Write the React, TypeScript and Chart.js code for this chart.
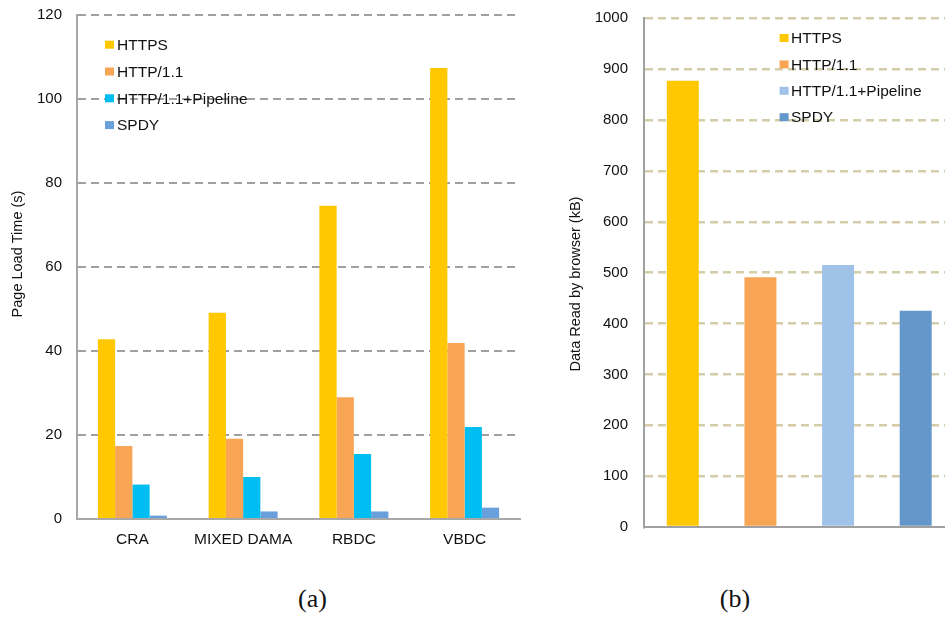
import React, { useEffect, useRef } from 'react';
import { Chart, registerables } from 'chart.js';

Chart.register(...registerables);

// ---- Data: panel (a) Page Load Time (s)
const categoriesA = ['CRA', 'MIXED DAMA', 'RBDC', 'VBDC'];
const seriesNames = ['HTTPS', 'HTTP/1.1', 'HTTP/1.1+Pipeline', 'SPDY'];
const httpsA = [42.8, 49.1, 74.6, 107.4];
const http11A = [17.4, 19.1, 29.0, 41.9];
const pipelineA = [8.2, 10.0, 15.5, 21.9];
const spdyA = [0.8, 1.8, 1.8, 2.7];
const ticksA = { min: 0, max: 120, step: 20 };

// ---- Data: panel (b) Data Read by browser (kB)
const protocolsB = ['HTTPS', 'HTTP/1.1', 'HTTP/1.1+Pipeline', 'SPDY'];
const dataReadB = [877, 491, 515, 425];
const ticksB = { min: 0, max: 1000, step: 100 };

const colorsA = ['#FFC800', '#F8A656', '#00BEF2', '#699FDB'];
const colorsB = ['#FFC800', '#F8A656', '#9FC3E8', '#6396C9'];

const FONT = '"Liberation Sans", Arial, sans-serif';
const TEXT = '#111111';

function overlay(opts: any) {
  return {
    id: 'overlay',
    afterDraw(chart: any) {
      const ctx = chart.ctx;
      const a = chart.chartArea;
      ctx.save();
      opts.labels.forEach((lab: string, i: number) => {
        const y = a.top + opts.legendTop + i * opts.legendStep;
        ctx.fillStyle = opts.colors[i];
        ctx.fillRect(a.left + opts.legendX, y - 5, 9, 8);
        ctx.fillStyle = TEXT;
        ctx.font = `15.5px ${FONT}`;
        ctx.textBaseline = 'middle';
        ctx.textAlign = 'left';
        ctx.fillText(lab, a.left + opts.legendX + opts.textGap, y);
      });
      ctx.translate(opts.titleX, opts.titleY);
      ctx.rotate(-Math.PI / 2);
      ctx.textAlign = 'center';
      ctx.textBaseline = 'middle';
      ctx.font = `14.5px ${FONT}`;
      ctx.fillStyle = TEXT;
      ctx.fillText(opts.title, 0, 0);
      ctx.restore();
    },
  };
}

const fitY = (w: number) => (s: any) => {
  s.width = w;
  s.paddingTop = 0;
  s.paddingBottom = 0;
};

function configA(): any {
  const values = [httpsA, http11A, pipelineA, spdyA];
  return {
    type: 'bar',
    data: {
      labels: categoriesA,
      datasets: values.map((d, i) => ({
        label: seriesNames[i],
        data: d,
        backgroundColor: colorsA[i],
        categoryPercentage: 0.623,
        barPercentage: 1,
      })),
    },
    options: {
      responsive: false,
      animation: false,
      devicePixelRatio: 1,
      layout: { padding: { left: 0, right: 10, top: 15, bottom: 0 } },
      plugins: { legend: { display: false }, tooltip: { enabled: false } },
      scales: {
        x: {
          grid: { display: false, drawTicks: false },
          border: { display: true, color: '#a8a8a8', width: 2 },
          ticks: { font: { size: 15.5, family: FONT }, color: TEXT, padding: 11 },
          afterFit: (s: any) => { s.height = 41; s.paddingLeft = 0; s.paddingRight = 0; },
        },
        y: {
          min: ticksA.min,
          max: ticksA.max,
          ticks: {
            stepSize: ticksA.step,
            font: { size: 15, family: FONT },
            color: TEXT,
            padding: 15,
            callback: (v: any) => String(v),
          },
          grid: {
            color: (c: any) => (c.tick && c.tick.value === 0 ? 'rgba(0,0,0,0)' : '#a0a0a0'),
            lineWidth: 2,
            drawTicks: false,
          },
          border: { color: '#a8a8a8', width: 2, dash: [8, 5] },
          afterFit: fitY(77),
        },
      },
    },
    plugins: [
      overlay({
        labels: seriesNames,
        colors: colorsA,
        legendX: 28,
        legendTop: 30.7,
        legendStep: 26.8,
        textGap: 12,
        title: 'Page Load Time (s)',
        titleX: 18,
        titleY: 254,
      }),
    ],
  };
}

function configB(): any {
  return {
    type: 'bar',
    data: {
      labels: protocolsB,
      datasets: [
        {
          label: 'Data Read',
          data: dataReadB,
          backgroundColor: colorsB,
          categoryPercentage: 0.412,
          barPercentage: 1,
        },
      ],
    },
    options: {
      responsive: false,
      animation: false,
      devicePixelRatio: 1,
      layout: { padding: { left: 0, right: 10.5, top: 18.3, bottom: 0 } },
      plugins: { legend: { display: false }, tooltip: { enabled: false } },
      scales: {
        x: {
          grid: { display: false, drawTicks: false },
          border: { display: true, color: '#a0a0a0', width: 2 },
          ticks: { display: false },
          afterFit: (s: any) => { s.height = 33; s.paddingLeft = 0; s.paddingRight = 0; },
        },
        y: {
          min: ticksB.min,
          max: ticksB.max,
          ticks: {
            stepSize: ticksB.step,
            font: { size: 15, family: FONT },
            color: TEXT,
            padding: 16,
            callback: (v: any) => String(v),
          },
          grid: {
            color: (c: any) => (c.tick && c.tick.value === 0 ? 'rgba(0,0,0,0)' : '#d5cdaa'),
            lineWidth: 2.5,
            drawTicks: false,
          },
          border: { color: '#a0a0a0', width: 2, dash: [8, 5] },
          afterFit: fitY(104),
        },
      },
    },
    plugins: [
      overlay({
        labels: protocolsB,
        colors: colorsB,
        legendX: 135.6,
        legendTop: 20.7,
        legendStep: 26.4,
        textGap: 11.4,
        title: 'Data Read by browser (kB)',
        titleX: 36,
        titleY: 284,
      }),
    ],
  };
}

function ChartCanvas({ left, width, height, build }: any) {
  const ref = useRef<HTMLCanvasElement | null>(null);
  useEffect(() => {
    if (!ref.current) return;
    const c = new Chart(ref.current, build());
    return () => c.destroy();
  }, []);
  return (
    <canvas
      ref={ref}
      width={width}
      height={height}
      style={{ position: 'absolute', left, top: 0, width, height }}
    />
  );
}

const captionStyle: any = {
  position: 'absolute',
  width: 100,
  top: 584,
  textAlign: 'center',
  font: '26px "Liberation Serif", "Times New Roman", serif',
  lineHeight: '30px',
  color: '#111',
};

export default function App() {
  return (
    <div
      style={{
        position: 'absolute',
        left: 0,
        top: 0,
        width: 945,
        height: 617,
        overflow: 'hidden',
        background: '#fff',
      }}
    >
      <ChartCanvas left={0} width={530} height={560} build={configA} />
      <ChartCanvas left={540} width={425} height={560} build={configB} />
      <div style={{ ...captionStyle, left: 312.5 - 50 }}>(a)</div>
      <div style={{ ...captionStyle, left: 735 - 50 }}>(b)</div>
    </div>
  );
}
